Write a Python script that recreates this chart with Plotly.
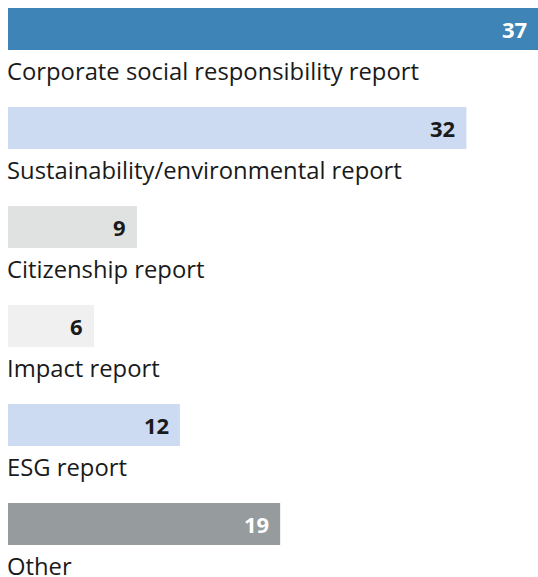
import plotly.graph_objects as go

categories = [
    "Corporate social responsibility report",
    "Sustainability/environmental report",
    "Citizenship report",
    "Impact report",
    "ESG report",
    "Other",
]
values = [37, 32, 9, 6, 12, 19]
bar_colors = ["#3f84b6", "#ccdbf1", "#e0e2e1", "#f0f0f0", "#ccdbf1", "#969b9d"]
value_colors = ["#ffffff", "#1a1a1a", "#1a1a1a", "#1a1a1a", "#1a1a1a", "#ffffff"]

W, H = 538, 577
pitch = 99
first_center = 29

fig = go.Figure(go.Bar(
    x=values,
    y=categories,
    orientation="h",
    marker=dict(color=bar_colors, line=dict(width=0)),
    width=42 / pitch,
    hoverinfo="skip",
))

annotations = []
for cat, v, c in zip(categories, values, value_colors):
    annotations.append(dict(
        x=v, y=cat, xref="x", yref="y", text="<b>%d</b>" % v,
        showarrow=False, xanchor="right", yanchor="middle", xshift=-9,
        font=dict(family="Open Sans", size=22, color=c),
    ))
    annotations.append(dict(
        x=0, y=cat, xref="x", yref="y", text=cat,
        showarrow=False, xanchor="left", yanchor="middle", yshift=-42, xshift=-3,
        font=dict(family="Open Sans", size=23.8, color="#1a1a1a"),
    ))

fig.update_layout(
    width=W, height=H,
    margin=dict(l=8, r=0, t=0, b=0),
    paper_bgcolor="white", plot_bgcolor="white",
    showlegend=False,
    annotations=annotations,
    xaxis=dict(range=[0, max(values)], visible=False, fixedrange=True),
    yaxis=dict(
        type="category", categoryorder="array", categoryarray=categories,
        range=[(H - first_center) / pitch, -first_center / pitch],
        visible=False, fixedrange=True,
    ),
)

# drop the default page margin so the figure fills the window
fig.write_html("out.html", config={"displayModeBar": False},
               post_script="document.body.style.margin='0';")
